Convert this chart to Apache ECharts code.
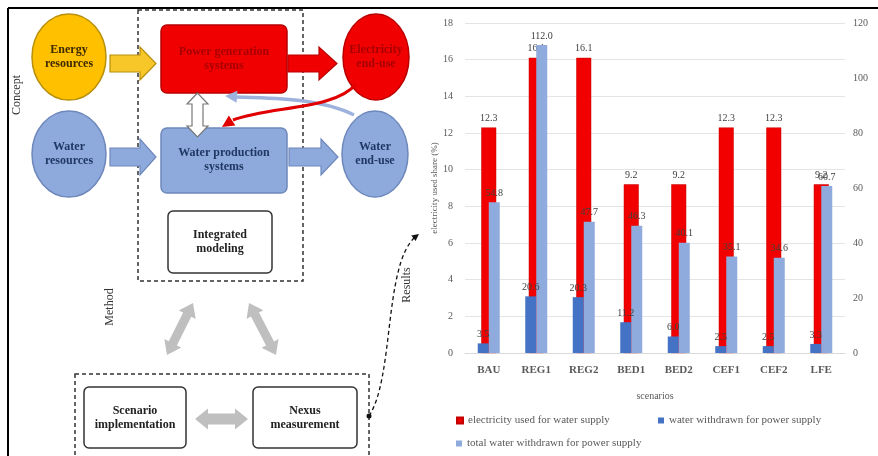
<!DOCTYPE html>
<html><head><meta charset="utf-8">
<script src="https://cdn.jsdelivr.net/npm/echarts@6/dist/echarts.min.js"></script>
<style>html,body{margin:0;padding:0;background:#fff}#c{width:878px;height:456px}</style>
</head><body><div id="c"></div>
<script>
// ---- data ----
const scenarios = ['BAU', 'REG1', 'REG2', 'BED1', 'BED2', 'CEF1', 'CEF2', 'LFE'];
const electricityShare = [12.3, 16.1, 16.1, 9.2, 9.2, 12.3, 12.3, 9.2];
const waterForPower = [3.5, 20.6, 20.3, 11.2, 6.0, 2.5, 2.5, 3.3];
const totalWaterForPower = [54.8, 112.0, 47.7, 46.3, 40.1, 35.1, 34.6, 60.7];
const seriesNames = ['electricity used for water supply', 'water withdrawn for power supply', 'total water withdrawn for power supply'];
const leftAxisRange = [0, 18, 2];
const rightAxisRange = [0, 120, 20];

const SERIF = '"Liberation Serif", "DejaVu Serif", serif';

function dblArrow(x1, y1, x2, y2, w, h, L) {
  const dx = x2 - x1, dy = y2 - y1, len = Math.hypot(dx, dy), ux = dx / len, uy = dy / len, nx = -uy, ny = ux;
  const P = (t, s) => [x1 + ux * t + nx * s, y1 + uy * t + ny * s];
  return [P(0, 0), P(L, h), P(L, w), P(len - L, w), P(len - L, h), P(len, 0), P(len - L, -h), P(len - L, -w), P(L, -w), P(L, -h)];
}
function oneArrow(x1, y1, x2, y2, w, h, L) {
  const dx = x2 - x1, dy = y2 - y1, len = Math.hypot(dx, dy), ux = dx / len, uy = dy / len, nx = -uy, ny = ux;
  const P = (t, s) => [x1 + ux * t + nx * s, y1 + uy * t + ny * s];
  return [P(0, w), P(len - L, w), P(len - L, h), P(len, 0), P(len - L, -h), P(len - L, -w), P(0, -w)];
}
function head(tx, ty, fx, fy, L, h) {
  const dx = tx - fx, dy = ty - fy, len = Math.hypot(dx, dy), ux = dx / len, uy = dy / len, nx = -uy, ny = ux;
  return [[tx, ty], [tx - ux * L + nx * h, ty - uy * L + ny * h], [tx - ux * L - nx * h, ty - uy * L - ny * h]];
}
function txt(x, y, text, font, fill, rot) {
  return { type: 'text', x: x, y: y, rotation: rot || 0, z: 20,
    style: { x: 0, y: 0, text: text, font: font, fill: fill, align: 'center', verticalAlign: 'middle', lineHeight: 14 } };
}

const yellow = '#FFC000', yellowB = '#B8900C';
const red = '#F00000', redB = '#B80000';
const blue = '#8EA9DB', blueB = '#6E88BC';
const bold12 = 'bold 12px ' + SERIF;

const graphics = [
  // frame
  { type: 'line', z: 30, shape: { x1: 8, y1: 8, x2: 878, y2: 8 }, style: { stroke: '#000', lineWidth: 2 } },
  { type: 'line', z: 30, shape: { x1: 8, y1: 8, x2: 8, y2: 456 }, style: { stroke: '#000', lineWidth: 2 } },
  // dashed boxes
  { type: 'rect', shape: { x: 138, y: 10, width: 165, height: 271 }, style: { fill: 'none', stroke: '#333', lineWidth: 1.5, lineDash: [4, 3] } },
  { type: 'rect', shape: { x: 75, y: 374, width: 294, height: 100 }, style: { fill: 'none', stroke: '#333', lineWidth: 1.5, lineDash: [4, 3] } },
  // circles
  { type: 'ellipse', shape: { cx: 69, cy: 57, rx: 37, ry: 43 }, style: { fill: yellow, stroke: yellowB, lineWidth: 1.5 } },
  { type: 'ellipse', shape: { cx: 376, cy: 57, rx: 33, ry: 43 }, style: { fill: red, stroke: redB, lineWidth: 1.5 } },
  { type: 'ellipse', shape: { cx: 69, cy: 154, rx: 37, ry: 43 }, style: { fill: blue, stroke: blueB, lineWidth: 1.5 } },
  { type: 'ellipse', shape: { cx: 375, cy: 154, rx: 33, ry: 43 }, style: { fill: blue, stroke: blueB, lineWidth: 1.5 } },
  // boxes
  { type: 'rect', shape: { x: 161, y: 25, width: 126, height: 68, r: 6 }, style: { fill: red, stroke: redB, lineWidth: 1.5 } },
  { type: 'rect', shape: { x: 161, y: 128, width: 126, height: 65, r: 6 }, style: { fill: blue, stroke: blueB, lineWidth: 1.5 } },
  { type: 'rect', shape: { x: 168, y: 211, width: 104, height: 62, r: 5 }, style: { fill: '#fff', stroke: '#333', lineWidth: 1.5 } },
  { type: 'rect', shape: { x: 84, y: 387, width: 102, height: 61, r: 5 }, style: { fill: '#fff', stroke: '#333', lineWidth: 1.5 } },
  { type: 'rect', shape: { x: 253, y: 387, width: 104, height: 61, r: 5 }, style: { fill: '#fff', stroke: '#333', lineWidth: 1.5 } },
  // block arrows
  { type: 'polygon', shape: { points: oneArrow(110, 63.5, 156, 63.5, 8.5, 16.5, 16) }, style: { fill: '#F7C72A', stroke: yellowB, lineWidth: 1.2 } },
  { type: 'polygon', shape: { points: oneArrow(288, 63.5, 337, 63.5, 8.5, 16.5, 18) }, style: { fill: red, stroke: redB, lineWidth: 1.2 } },
  { type: 'polygon', shape: { points: oneArrow(110, 157, 156, 157, 9, 18, 16) }, style: { fill: blue, stroke: blueB, lineWidth: 1.2 } },
  { type: 'polygon', shape: { points: oneArrow(289, 157, 338, 157, 9, 18, 17) }, style: { fill: blue, stroke: blueB, lineWidth: 1.2 } },
  { type: 'polygon', shape: { points: dblArrow(197.5, 93, 197.5, 137, 5.5, 10.5, 11) }, style: { fill: '#fff', stroke: '#777', lineWidth: 1.2 } },
  // gray double arrows
  { type: 'polygon', shape: { points: dblArrow(167, 355, 193, 303, 4.5, 9.5, 13) }, style: { fill: '#BFBFBF' } },
  { type: 'polygon', shape: { points: dblArrow(249, 303, 276, 355, 4.5, 9.5, 13) }, style: { fill: '#BFBFBF' } },
  { type: 'polygon', shape: { points: dblArrow(195, 419, 248, 419, 5.5, 10.5, 13) }, style: { fill: '#BFBFBF' } },
  // curved arrows
  { type: 'bezierCurve', z: 5, shape: { x1: 354, y1: 115, cpx1: 320, cpy1: 98, cpx2: 270, cpy2: 98, x2: 236, y2: 97 }, style: { stroke: '#9DB3DD', lineWidth: 3.5, fill: 'none' } },
  { type: 'polygon', z: 5, shape: { points: head(225, 96, 240, 97, 12, 6) }, style: { fill: '#9DB3DD' } },
  { type: 'bezierCurve', z: 6, shape: { x1: 356, y1: 84, cpx1: 335, cpy1: 110, cpx2: 270, cpy2: 106, x2: 233, y2: 120 }, style: { stroke: '#E00000', lineWidth: 3, fill: 'none' } },
  { type: 'polygon', z: 6, shape: { points: head(222, 127, 236, 118, 12, 6) }, style: { fill: '#E00000' } },
  // results dashed arrow
  { type: 'bezierCurve', shape: { x1: 369, y1: 416, cpx1: 394, cpy1: 378, cpx2: 384, cpy2: 268, x2: 414, y2: 238 }, style: { stroke: '#111', lineWidth: 1.3, lineDash: [4, 3], fill: 'none' } },
  { type: 'polygon', shape: { points: head(419, 234, 410, 241, 7, 3.5) }, style: { fill: '#111' } },
  { type: 'circle', shape: { cx: 369, cy: 416, r: 2.5 }, style: { fill: '#111' } },
  // texts
  txt(69, 57, 'Energy\nresources', bold12, '#3d2a00'),
  txt(224, 59, 'Power generation\nsystems', bold12, '#A80000'),
  txt(376, 57, 'Electricity\nend-use', bold12, '#A80000'),
  txt(69, 154, 'Water\nresources', bold12, '#1F3864'),
  txt(224, 160, 'Water production\nsystems', bold12, '#1F3864'),
  txt(375, 154, 'Water\nend-use', bold12, '#1F3864'),
  txt(220, 242, 'Integrated\nmodeling', bold12, '#222'),
  txt(135, 418, 'Scenario\nimplementation', bold12, '#222'),
  txt(305, 418, 'Nexus\nmeasurement', bold12, '#222'),
  txt(17, 95, 'Concept', '12px ' + SERIF, '#333', Math.PI / 2),
  txt(110, 307, 'Method', '12px ' + SERIF, '#333', Math.PI / 2),
  txt(407, 285, 'Results', '12px ' + SERIF, '#333', Math.PI / 2)
];

const labelStyle = { show: true, position: 'top', distance: 4, color: '#404040', fontFamily: SERIF, fontSize: 10,
  formatter: p => p.value.toFixed(1) };
const axisLbl = { color: '#595959', fontFamily: SERIF, fontSize: 10 };
const legendBase = { icon: 'rect', itemWidth: 6, itemHeight: 6, itemGap: 4, padding: 0,
  textStyle: { color: '#595959', fontFamily: SERIF, fontSize: 11 } };

const option = {
  animation: false,
  backgroundColor: '#fff',
  grid: { left: 465, right: 33, top: 23, bottom: 103, outerBoundsMode: 'none' },
  legend: [
    Object.assign({ data: [seriesNames[0]], left: 456, top: 415 }, legendBase),
    Object.assign({ data: [seriesNames[1]], left: 658, top: 415 }, legendBase),
    Object.assign({ data: [seriesNames[2]], left: 456, top: 438 }, legendBase)
  ],
  xAxis: [
    { type: 'category', data: scenarios, axisTick: { show: false },
      axisLine: { lineStyle: { color: '#D9D9D9' } },
      axisLabel: { color: '#595959', fontFamily: SERIF, fontWeight: 'bold', fontSize: 11, margin: 12 },
      name: 'scenarios', nameLocation: 'middle', nameGap: 38,
      nameTextStyle: { color: '#595959', fontFamily: SERIF, fontSize: 10 } },
    { type: 'category', data: scenarios, show: false }
  ],
  yAxis: [
    { type: 'value', min: leftAxisRange[0], max: leftAxisRange[1], interval: leftAxisRange[2], position: 'left',
      axisLine: { show: false }, axisTick: { show: false },
      splitLine: { lineStyle: { color: '#E4E4E4' } },
      axisLabel: Object.assign({ margin: 12 }, axisLbl),
      name: 'electricity used share (%)', nameLocation: 'middle', nameGap: 26,
      nameTextStyle: { color: '#595959', fontFamily: SERIF, fontSize: 9 } },
    { type: 'value', min: rightAxisRange[0], max: rightAxisRange[1], interval: rightAxisRange[2], position: 'right',
      axisLine: { show: false }, axisTick: { show: false }, splitLine: { show: false },
      axisLabel: Object.assign({ margin: 8 }, axisLbl) }
  ],
  series: [
    { name: seriesNames[0], type: 'bar', xAxisIndex: 0, yAxisIndex: 0, data: electricityShare, barWidth: 15, z: 1,
      itemStyle: { color: '#F20000', borderColor: '#C40000', borderWidth: 0.5 }, label: labelStyle },
    { name: seriesNames[1], type: 'bar', xAxisIndex: 1, yAxisIndex: 1, data: waterForPower, barWidth: 11, barGap: '0%', z: 3,
      itemStyle: { color: '#4472C4' }, label: labelStyle },
    { name: seriesNames[2], type: 'bar', xAxisIndex: 1, yAxisIndex: 1, data: totalWaterForPower, barWidth: 11, barGap: '0%', z: 3,
      itemStyle: { color: '#8FAADC' }, label: labelStyle }
  ],
  graphic: { elements: graphics }
};

const chart = echarts.init(document.getElementById('c'), null, { renderer: 'canvas' });
chart.setOption(option);
</script>
</body></html>
